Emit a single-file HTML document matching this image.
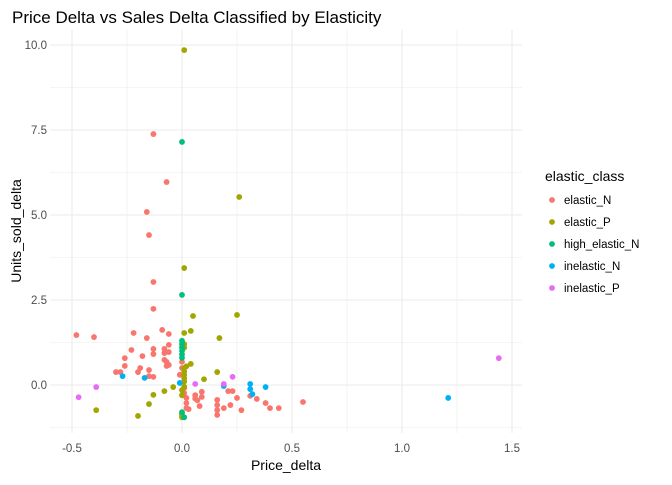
<!DOCTYPE html>
<html><head><meta charset="utf-8"><style>
body{margin:0;background:#fff;font-family:"Liberation Sans",sans-serif}
svg text{font-family:"Liberation Sans",sans-serif}
</style></head><body>
<svg id="chart" width="672" height="480" xmlns="http://www.w3.org/2000/svg">
<text x="12" y="23" font-size="17" fill="#000">Price Delta vs Sales Delta Classified by Elasticity</text>
<g id="grid"></g><g id="ticks"></g><g id="pts"></g>
<text x="286" y="470" font-size="14" text-anchor="middle">Price_delta</text>
<text transform="translate(21,231) rotate(-90)" font-size="14" text-anchor="middle">Units_sold_delta</text>
<g id="legend"></g>
</svg>
<script>
const classes=["elastic_N","elastic_P","high_elastic_N","inelastic_N","inelastic_P"];
const colors=["#F8766D","#A3A500","#00BF7D","#00B0F6","#E76BF3"];
const xTicks=[-0.5,0,0.5,1,1.5];
const xTickLabels=["-0.5","0.0","0.5","1.0","1.5"];
const yTicks=[0,2.5,5,7.5,10];
const yTickLabels=["0.0","2.5","5.0","7.5","10.0"];
const elasticNx=[-0.13,-0.48,-0.40,-0.22,-0.16,-0.09,-0.06,-0.06,-0.23,-0.13,-0.13,-0.08,-0.06,-0.08,-0.18,-0.26,-0.08,-0.07,-0.26,-0.06,-0.07,-0.19,-0.28,-0.30,-0.20,-0.15,-0.15,-0.13,0,0,-0.01,0.01,0.01,0.02,0.02,0.02,0.06,0.07,0.06,0.09,0.09,0.08,0.03,0.16,0.16,0.16,0.16,0.19,0.21,0.23,0.25,0.22,0.27,0.31,0.34,0.38,0.40,0.44,0.55,-0.13,-0.07,-0.16,-0.15,-0.13];
const elasticNy=[2.24,1.47,1.41,1.53,1.38,1.62,1.5,1.18,1.03,1.06,0.91,1.06,0.97,0.94,0.85,0.79,0.74,0.68,0.56,0.59,0.56,0.50,0.38,0.38,0.38,0.44,0.26,0.24,0.68,0.5,0.3,-0.09,-0.24,-0.38,-0.53,-0.68,-0.3,-0.45,-0.4,-0.2,-0.35,-0.62,-0.71,-0.44,-0.59,-0.74,-0.88,-0.68,-0.18,-0.18,-0.38,-0.59,-0.74,-0.32,-0.41,-0.53,-0.68,-0.68,-0.5,7.38,5.97,5.09,4.41,3.03];
const elasticPx=[0.05,0.25,0.01,0.04,0.17,0.01,0.01,0.04,0.01,0.01,0.01,0.01,0.01,0.16,0.10,-0.04,-0.08,-0.13,-0.15,-0.39,-0.20,0,0,0,0,0.01,0.01,0.26,0.01,0.02,0];
const elasticPy=[2.03,2.06,1.53,1.59,1.38,1.2,1.1,0.62,0.5,0.4,0.3,0.2,0.1,0.38,0.17,-0.06,-0.18,-0.29,-0.56,-0.74,-0.91,-0.85,-0.95,-0.3,-0.15,-0.05,9.85,5.53,3.44,0.55,-0.9];
const highNx=[0,0,0,0,0,0.01,0,0,0,0];
const highNy=[1.2,1.1,1.0,0.9,0.8,-0.95,7.15,2.65,1.3,-0.8];
const inelNx=[-0.27,-0.17,-0.01,0.19,0.31,0.31,0.32,0.38,1.21];
const inelNy=[0.26,0.21,0.06,-0.03,0.03,-0.12,-0.27,-0.06,-0.38];
const inelPx=[-0.47,-0.39,0.06,0.19,0.23,1.44];
const inelPy=[-0.36,-0.06,0.03,0.03,0.24,0.79];
const series=[[elasticNx,elasticNy],[elasticPx,elasticPy],[highNx,highNy],[inelNx,inelNy],[inelPx,inelPy]];
const X0=50,X1=522,Y0=30,Y1=433;
const sx=v=>182+220*v, sy=v=>385-34*v;
const NS="http://www.w3.org/2000/svg";
function mk(tag,attrs,parent){const e=document.createElementNS(NS,tag);for(const k in attrs)e.setAttribute(k,attrs[k]);parent.appendChild(e);return e;}
const grid=document.getElementById('grid'),ticks=document.getElementById('ticks'),pts=document.getElementById('pts'),leg=document.getElementById('legend');
for(let v=-0.75;v<=1.76;v+=0.25){const x=sx(v);if(x<X0||x>X1)continue;const major=Math.abs(v*2-Math.round(v*2))<1e-6;
const l=mk('line',{x1:x,x2:x,y1:Y0,y2:Y1,stroke:'#ebebeb','stroke-width':major?1.1:0.6},grid);

}
for(let v=-1.25;v<=10.5;v+=1.25){const y=sy(v);if(y<Y0||y>Y1)continue;const major=Math.abs(v/2.5-Math.round(v/2.5))<1e-6;
const l=mk('line',{x1:X0,x2:X1,y1:y,y2:y,stroke:'#ebebeb','stroke-width':major?1.1:0.6},grid);

}
xTicks.forEach((v,i)=>{const t=mk('text',{x:sx(v),y:Y1+19,'font-size':11.5,fill:'#4d4d4d','text-anchor':'middle'},ticks);t.textContent=xTickLabels[i];

});
yTicks.forEach((v,i)=>{const t=mk('text',{x:X0-3,y:sy(v)+4,'font-size':11.5,fill:'#4d4d4d','text-anchor':'end'},ticks);t.textContent=yTickLabels[i];

});
series.forEach((s,k)=>{s[0].forEach((xv,i)=>{const c=mk('circle',{cx:sx(xv),cy:sy(s[1][i]),r:2.9,fill:colors[k]},pts);

});});
const lt=mk('text',{x:545,y:181,'font-size':14},leg);lt.textContent='elastic_class';


classes.forEach((c,k)=>{const y=200+22*k;
const g=mk('g',{},leg);


mk('circle',{cx:552,cy:y,r:2.9,fill:colors[k]},g);
const t=mk('text',{x:564,y:y+4,'font-size':11.5,fill:'#000'},g);t.textContent=c;});
</script>
</body></html>
